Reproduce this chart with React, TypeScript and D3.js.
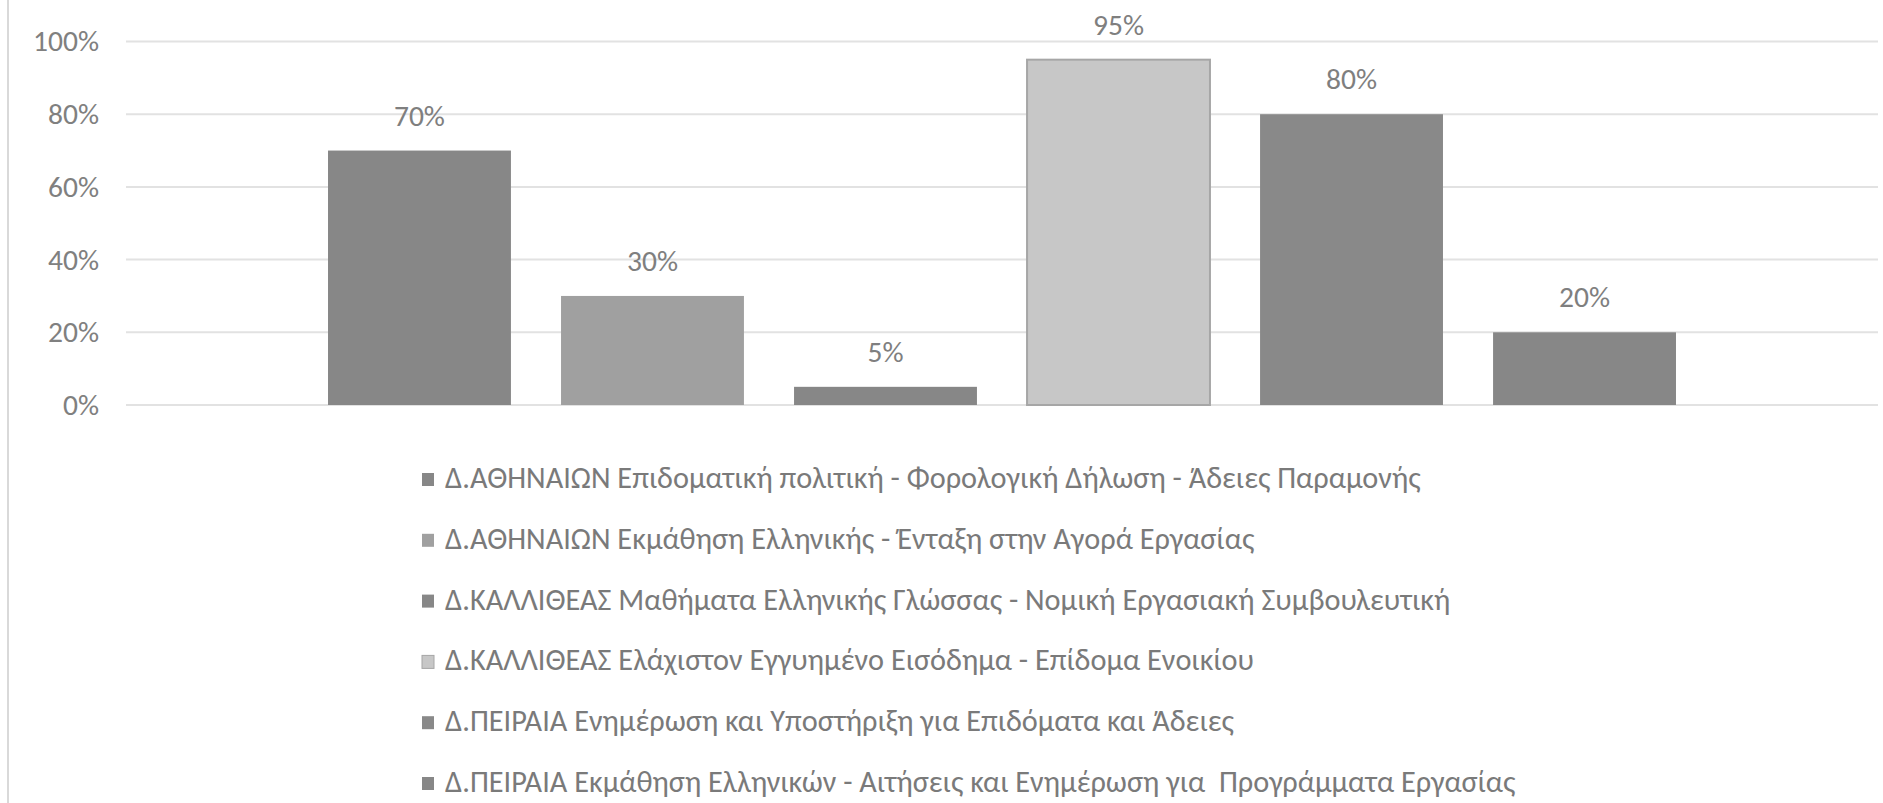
import * as d3 from 'd3';
import React, { useRef, useEffect } from 'react';

// series names (legend) and their share
const seriesNames = [
    'Δ.ΑΘΗΝΑΙΩΝ Επιδοματική πολιτική - Φορολογική Δήλωση - Άδειες Παραμονής',
    'Δ.ΑΘΗΝΑΙΩΝ Εκμάθηση Ελληνικής - Ένταξη στην Αγορά Εργασίας',
    'Δ.ΚΑΛΛΙΘΕΑΣ Μαθήματα Ελληνικής Γλώσσας - Νομική Εργασιακή Συμβουλευτική',
    'Δ.ΚΑΛΛΙΘΕΑΣ Ελάχιστον Εγγυημένο Εισόδημα - Επίδομα Ενοικίου',
    'Δ.ΠΕΙΡΑΙΑ Ενημέρωση και Υποστήριξη για Επιδόματα και Άδειες',
    'Δ.ΠΕΙΡΑΙΑ Εκμάθηση Ελληνικών - Αιτήσεις και Ενημέρωση για  Προγράμματα Εργασίας'
];
const seriesValues = [0.70, 0.30, 0.05, 0.95, 0.80, 0.20];
const yTicks = [0, 0.2, 0.4, 0.6, 0.8, 1.0];

const barFills = ['#878787', '#a0a0a0', '#878787', '#c7c7c7', '#898989', '#878787'];
const barStrokes = ['none', 'none', 'none', '#a6a6a6', 'none', 'none'];

const FONT = "Carlito, Calibri, 'Liberation Sans Narrow', 'Open Sans', sans-serif";

const App = () => {
    const ref = useRef<HTMLDivElement>(null);

    useEffect(() => {
        const width = 1883;
        const height = 803;
        const plotLeft = 126;
        const plotRight = 1878;

        d3.select(ref.current).select('svg').remove();

        const svg = d3.select(ref.current)
            .append('svg')
            .attr('width', width)
            .attr('height', height)
            .style('position', 'absolute')
            .style('left', 0)
            .style('top', 0)
            .style('background', '#fff')
            .style('font-family', FONT);

        const y = d3.scaleLinear().domain([0, 1]).range([405, 41.5]);

        const x = d3.scaleBand<number>()
            .domain(d3.range(seriesValues.length))
            .range([plotLeft, plotRight])
            .paddingInner(0.215)
            .paddingOuter(0.867);

        // left border of the chart area
        svg.append('line')
            .attr('x1', 8).attr('x2', 8)
            .attr('y1', 0).attr('y2', height)
            .attr('stroke', '#d9d9d9')
            .attr('stroke-width', 2);

        // gridlines
        svg.append('g')
            .selectAll('line')
            .data(yTicks)
            .enter().append('line')
            .attr('x1', plotLeft).attr('x2', plotRight)
            .attr('y1', (d) => y(d)).attr('y2', (d) => y(d))
            .attr('stroke', '#e2e2e2')
            .attr('stroke-width', 2);

        // y axis labels
        const yAxis = svg.append('g')
            .attr('transform', `translate(99,0)`)
            .call(d3.axisLeft(y).tickValues(yTicks).tickFormat(d3.format('.0%')).tickSize(0).tickPadding(0));
        yAxis.select('.domain').remove();
        yAxis.selectAll('text')
            .attr('fill', '#808080')
            .style('font-family', FONT)
            .style('font-size', '29.5px');

        // bars
        svg.append('g')
            .selectAll('rect')
            .data(seriesValues)
            .enter().append('rect')
            .attr('x', (d, i) => x(i)!)
            .attr('width', x.bandwidth())
            .attr('y', (d) => y(d))
            .attr('height', (d) => y(0) - y(d))
            .attr('fill', (d, i) => barFills[i])
            .attr('stroke', (d, i) => barStrokes[i])
            .attr('stroke-width', 2);

        // value labels
        svg.append('g')
            .selectAll('text')
            .data(seriesValues)
            .enter().append('text')
            .attr('x', (d, i) => x(i)! + x.bandwidth() / 2)
            .attr('y', (d) => y(d) - 25)
            .attr('text-anchor', 'middle')
            .attr('fill', '#7f7f7f')
            .style('font-size', '29.5px')
            .text((d) => d3.format('.0%')(d));

        // legend
        const legendY = d3.scaleLinear().domain([0, seriesNames.length - 1]).range([488, 792]);
        const legend = svg.append('g')
            .selectAll('g')
            .data(seriesNames)
            .enter().append('g')
            .attr('transform', (d, i) => `translate(422,${legendY(i)})`);

        legend.append('rect')
            .attr('x', 0)
            .attr('y', -15)
            .attr('width', 12)
            .attr('height', 13)
            .attr('fill', (d, i) => barFills[i])
            .attr('stroke', (d, i) => barStrokes[i]);

        legend.append('text')
            .attr('x', 23)
            .attr('y', 0)
            .attr('fill', '#7a7a7a')
            .style('font-size', '30.3px')
            .style('white-space', 'pre')
            .text((d) => d);
    }, []);

    return <div ref={ref}></div>;
};

export default App;
